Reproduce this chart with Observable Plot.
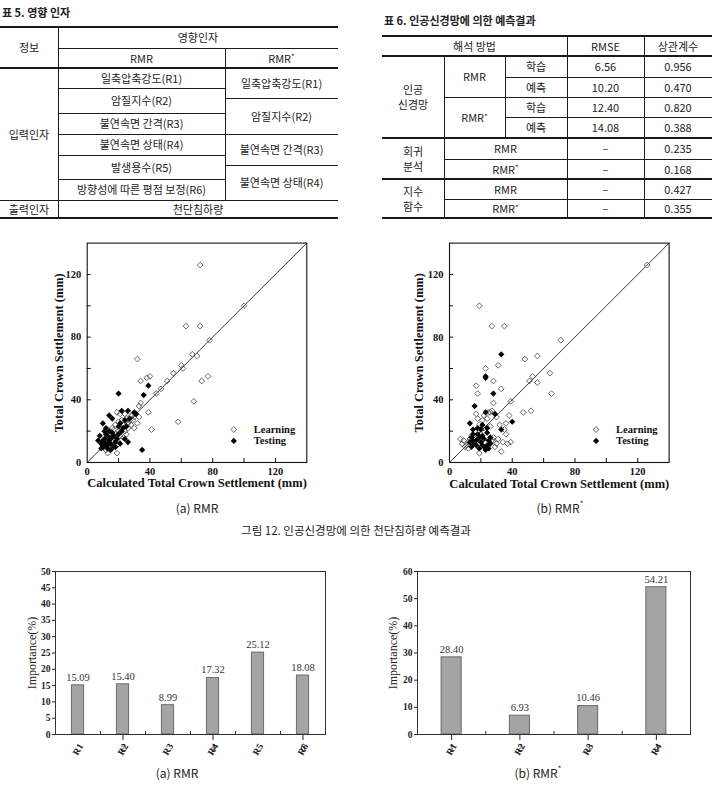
<!DOCTYPE html>
<html><head><meta charset="utf-8">
<script src="https://cdn.jsdelivr.net/npm/d3@7"></script>
<script src="https://cdn.jsdelivr.net/npm/@observablehq/plot@0.6"></script>
<style>
body{margin:0;background:#fff;}
#page{position:relative;width:712px;height:788px;overflow:hidden;font-family:"Noto Sans CJK KR","Noto Sans",sans-serif;color:#222;}
.ln{position:absolute;background:#1a1a1a;}
.cell{position:absolute;display:flex;align-items:center;justify-content:center;text-align:center;font-size:11px;line-height:1.35;white-space:pre-line;}
.ttl{position:absolute;font-size:11px;font-weight:bold;white-space:nowrap;}
.cap{position:absolute;font-size:12px;white-space:nowrap;transform:translateX(-50%);}
.chart{position:absolute;}
sup{font-size:8px;line-height:0;position:relative;top:-1px;}
</style></head>
<body><div id="page"></div>
<script>
// ---------- DATA ----------
const table5Title = "표 5. 영향 인자";
const table5Head = ["정보", "영향인자", "RMR", "RMR*"];
const rmrFactors = ["일축압축강도(R1)", "암질지수(R2)", "불연속면 간격(R3)", "불연속면 상태(R4)", "발생용수(R5)", "방향성에 따른 평점 보정(R6)"];
const rmrStarFactors = ["일축압축강도(R1)", "암질지수(R2)", "불연속면 간격(R3)", "불연속면 상태(R4)"];
const table5Rows = ["입력인자", "출력인자"];
const table5Output = "천단침하량";

const table6Title = "표 6. 인공신경망에 의한 예측결과";
const table6Head = ["해석 방법", "RMSE", "상관계수"];
const methods = ["인공\n신경망", "회귀\n분석", "지수\n함수"];
const models = ["RMR", "RMR*"];
const phases = ["학습", "예측"];
const annRmse = ["6.56", "10.20", "12.40", "14.08"];
const annCorr = ["0.956", "0.470", "0.820", "0.388"];
const regCorr = ["0.235", "0.168"];
const expCorr = ["0.427", "0.355"];
const noValue = "–";

const scatterXLabel = "Calculated Total Crown Settlement (mm)";
const scatterYLabel = "Total Crown Settlement (mm)";
const legendLabels = ["Learning", "Testing"];
const scatterMajor = [0, 40, 80, 120];
const scatterMinor = [20, 40, 60, 80, 100, 120];
const diagonal = [0, 140];

const rmrLearning = [[72,126],[100,100],[63,87],[72,87],[78,78],[32,66],[67,69],[70,68],[60,62],[61,60],[55,57],[51,52],[47,47],[44,44],[40,55],[38,54],[34,52],[77,55],[73,52],[68,39],[39,32],[41,21],[58,26],[34,38],[33,36],[31,31],[32,25],[30,22],[19,32],[29,30],[19,6],[13,6],
 [25,28],[27,27],[28,30],[26,25],[23,24],[22,22],[24,20],[20,20],[18,18],[21,17],[17,21],[15,16],[16,13],[13,12],[12,14],[14,18],[19,14],[11,10],[10,12],[22,27],[26,22],[30,29],[20,26],[18,24],[16,22],[23,16],[25,18],[14,9],[19,11],[12,8],[28,24],[24,31],[33,29],[29,27],[21,31]];
const rmrTesting = [[20,44],[39,49],[36,43],[22,33],[26,33],[31,31],[35,8],[26,13],[14,30],[10,25],[16,28],[21,25],[24,27],[8,17],[7,14],[9,12],[10,10],[11,15],[12,18],[13,11],[14,14],[15,12],[16,16],[17,10],[18,13],[19,15],[20,18],[12,22],[11,20],[14,20],[16,19],[13,9],[9,9],[10,14],[15,8],[18,10],[22,20],[24,15],[21,12],[17,17],[12,12],[14,16],[27,28],[23,22],[20,23],[11,11],[30,32],[25,23]];
const rmrStarLearning = [[126,126],[19,100],[27,87],[35,87],[71,78],[48,66],[56,68],[64,57],[53,55],[51,52],[56,51],[65,44],[23,60],[31,62],[28,52],[17,49],[18,44],[33,47],[28,38],[39,39],[47,32],[52,33],[38,30],[36,25],[35,21],[36,18],[33,7],[19,6],[39,13],[37,12],[31,15],[28,14],[25,32],[27,33],[26,32],[21,27],[18,28],[19,24],[32,24],[9,14],[8,12],[11,11],[10,10],[12,13],[28,16],[27,14],[30,12],[29,10],[22,22],[26,23],[16,20],[14,17],[20,18],[24,28],[22,30],[17,31],[30,29],[13,15],[15,12],[34,13],[7,15],[12,9],[20,14]];
const rmrStarTesting = [[33,69],[23,55],[23,54],[28,44],[16,36],[23,32],[29,31],[40,26],[33,21],[13,25],[15,21],[14,16],[15,14],[18,15],[20,13],[22,15],[24,11],[25,9],[17,11],[19,9],[21,17],[26,16],[24,19],[15,18],[16,12],[18,18],[20,21],[22,10],[23,8],[26,12],[13,13],[17,14],[19,16],[21,11],[25,14],[14,10],[24,22],[21,24],[18,22]];

const rmrCats = ["R1","R2","R3","R4","R5","R6"];
const rmrImportance = [15.09, 15.40, 8.99, 17.32, 25.12, 18.08];
const rmrTicks = [0,5,10,15,20,25,30,35,40,45,50];
const rmrStarCats = ["R1","R2","R3","R4"];
const rmrStarImportance = [28.40, 6.93, 10.46, 54.21];
const rmrStarTicks = [0,10,20,30,40,50,60];
const barYLabel = "Importance(%)";

const subCaptions = ["(a) RMR", "(b) RMR*"];
const figCaption = "그림 12. 인공신경망에 의한 천단침하량 예측결과";

// ---------- HELPERS ----------
const page = document.getElementById("page");
const fmt = s => s.replace("*", "<sup>*</sup>");
function hl(x1, x2, y, w = 1) { const d = document.createElement("div"); d.className = "ln"; Object.assign(d.style, {left: x1 + "px", top: (y - w / 2) + "px", width: (x2 - x1) + "px", height: w + "px"}); page.appendChild(d); }
function vl(x, y1, y2, w = 1) { const d = document.createElement("div"); d.className = "ln"; Object.assign(d.style, {left: (x - w / 2) + "px", top: y1 + "px", width: w + "px", height: (y2 - y1) + "px"}); page.appendChild(d); }
function cell(x1, y1, x2, y2, text) { const d = document.createElement("div"); d.className = "cell"; Object.assign(d.style, {left: x1 + "px", top: y1 + "px", width: (x2 - x1) + "px", height: (y2 - y1) + "px"}); d.innerHTML = fmt(text); page.appendChild(d); }
function title(x, y, text) { const d = document.createElement("div"); d.className = "ttl"; Object.assign(d.style, {left: x + "px", top: y + "px"}); d.textContent = text; page.appendChild(d); }
function caption(cx, y, text, size) { const d = document.createElement("div"); d.className = "cap"; Object.assign(d.style, {left: cx + "px", top: y + "px"}); if (size) d.style.fontSize = size + "px"; d.innerHTML = fmt(text); page.appendChild(d); }
function place(node, x, y) { const w = document.createElement("div"); w.className = "chart"; w.style.left = x + "px"; w.style.top = y + "px"; w.appendChild(node); page.appendChild(w); }

// ---------- TABLE 5 ----------
title(2, 4, table5Title);
{
  const c = [0, 58, 225, 338];
  const rr = [68, 88, 113, 134, 155, 179, 200];
  const rs = [68, 98, 134, 165, 200];
  cell(c[0], 27, c[1], 68, table5Head[0]);
  cell(c[1], 27, c[3], 48, table5Head[1]);
  cell(c[1], 48, c[2], 68, table5Head[2]);
  cell(c[2], 48, c[3], 68, table5Head[3]);
  cell(c[0], 68, c[1], 200, table5Rows[0]);
  rmrFactors.forEach((t, i) => cell(c[1], rr[i], c[2], rr[i + 1], t));
  rmrStarFactors.forEach((t, i) => cell(c[2], rs[i], c[3], rs[i + 1], t));
  cell(c[0], 200, c[1], 218, table5Rows[1]);
  cell(c[1], 200, c[3], 218, table5Output);
  hl(0, 338, 27, 2); hl(58, 338, 48); hl(0, 338, 68, 1.6);
  rr.slice(1, -1).forEach(y => hl(58, 225, y));
  rs.slice(1, -1).forEach(y => hl(225, 338, y));
  hl(0, 338, 200); hl(0, 338, 218, 1.4);
  vl(58, 27, 218); vl(225, 48, 200);
}

// ---------- TABLE 6 ----------
title(384, 12, table6Title);
{
  const a = 382, b = 444, c = 505, d = 567, e = 644, f = 712;
  const r = [56, 77, 97, 117, 138, 159, 179, 199, 218];
  cell(a, 36, d, 56, table6Head[0]); cell(d, 36, e, 56, table6Head[1]); cell(e, 36, f, 56, table6Head[2]);
  cell(a, 56, b, 138, methods[0]);
  cell(b, 56, c, 97, models[0]); cell(b, 97, c, 138, models[1]);
  for (let i = 0; i < 4; i++) {
    cell(c, r[i], d, r[i + 1], phases[i % 2]);
    cell(d, r[i], e, r[i + 1], annRmse[i]);
    cell(e, r[i], f, r[i + 1], annCorr[i]);
  }
  cell(a, 138, b, 179, methods[1]);
  cell(a, 179, b, 218, methods[2]);
  [regCorr, expCorr].forEach((vals, g) => vals.forEach((v, j) => {
    const y1 = r[4 + g * 2 + j], y2 = r[5 + g * 2 + j];
    cell(b, y1, d, y2, models[j]); cell(d, y1, e, y2, noValue); cell(e, y1, f, y2, v);
  }));
  hl(a, f, 36, 2); hl(a, f, 56, 2);
  hl(c, f, 77); hl(b, f, 97); hl(c, f, 117);
  hl(a, f, 138, 1.4); hl(b, f, 159); hl(a, f, 179, 1.4); hl(b, f, 199); hl(a, f, 218, 1.4);
  vl(b, 56, 218); vl(c, 56, 138); vl(d, 36, 218); vl(e, 36, 218);
}

// ---------- SCATTER ----------
function scatter(learn, test, mLeft, yLabelDx) {
  const H = 262;
  const mt = 10.6, mb = 32, mr = 13.4, ml = mLeft;
  const width = ml + 219.6 + mr;
  const iw = width - ml - mr, ih = H - mt - mb;
  return Plot.plot({
    width, height: H, marginLeft: ml, marginRight: mr, marginTop: mt, marginBottom: mb,
    x: {domain: [0, 140]}, y: {domain: [0, 140]},
    style: {fontFamily: "'Liberation Serif', 'Times New Roman', serif", background: "transparent", color: "#111", overflow: "visible"},
    marks: [
      Plot.line(diagonal, {x: d => d, y: d => d, stroke: "#222", strokeWidth: 0.9}),
      Plot.tickX(scatterMinor, {x: d => d, insetTop: ih - 4, stroke: "#111"}),
      Plot.tickY(scatterMinor, {y: d => d, insetRight: iw - 4, stroke: "#111"}),
      Plot.axisX(scatterMajor, {tickSize: 0, tickPadding: 5, fontWeight: "bold", fontSize: 10.5, label: null}),
      Plot.axisY(scatterMajor, {tickSize: 0, tickPadding: 6, fontWeight: "bold", fontSize: 10.5, label: null}),
      Plot.text([scatterXLabel], {text: d => d, frameAnchor: "bottom", dy: 21, lineAnchor: "middle", textAnchor: "middle", fontWeight: "bold", fontSize: 12.5}),
      Plot.text([scatterYLabel], {text: d => d, frameAnchor: "left", dx: yLabelDx, rotate: -90, textAnchor: "middle", lineAnchor: "middle", fontWeight: "bold", fontSize: 12.5}),
      Plot.dot(learn, {x: d => d[0], y: d => d[1], symbol: "diamond2", r: 2.6, stroke: "#444", strokeWidth: 0.8, fill: "none"}),
      Plot.dot(test, {x: d => d[0], y: d => d[1], symbol: "diamond2", r: 2.8, fill: "#000", stroke: "none"}),
      Plot.dot([legendLabels[0]], {frameAnchor: "bottom-right", dx: -73, dy: -33, symbol: "diamond2", r: 2.6, stroke: "#444", strokeWidth: 0.8, fill: "none"}),
      Plot.dot([legendLabels[1]], {frameAnchor: "bottom-right", dx: -73, dy: -21.6, symbol: "diamond2", r: 2.8, fill: "#000"}),
      Plot.text([legendLabels[0]], {text: d => d, frameAnchor: "bottom-right", dx: -53, dy: -33, textAnchor: "start", lineAnchor: "middle", fontWeight: "bold", fontSize: 10.5}),
      Plot.text([legendLabels[1]], {text: d => d, frameAnchor: "bottom-right", dx: -53, dy: -21.6, textAnchor: "start", lineAnchor: "middle", fontWeight: "bold", fontSize: 10.5}),
      Plot.frame({stroke: "#111", strokeWidth: 1.1})
    ]
  });
}
place(scatter(rmrLearning, rmrTesting, 56.7, -28.5), 30, 232);
place(scatter(rmrStarLearning, rmrStarTesting, 57, -31), 392, 232);

caption(197, 499, subCaptions[0]);
caption(560, 499, subCaptions[1]);
caption(356, 522, figCaption, 11.5);

// ---------- BARS ----------
function bars(cats, vals, ticks, halfW, width, ml, yLabelDx) {
  const H = 205, mt = 11, mb = 31, mr = 10;
  const n = cats.length;
  const ih = H - mt - mb;
  const bounds = cats.slice(1).map((c, i) => i + 1.5);
  return Plot.plot({
    width, height: H, marginLeft: ml, marginRight: mr, marginTop: mt, marginBottom: mb,
    x: {domain: [0.5, n + 0.5]}, y: {domain: [ticks[0], ticks[ticks.length - 1]]},
    style: {fontFamily: "'Liberation Serif', 'Times New Roman', serif", background: "transparent", color: "#222", overflow: "visible"},
    marks: [
      Plot.rect(vals, {x1: (d, i) => i + 1 - halfW, x2: (d, i) => i + 1 + halfW, y1: 0, y2: d => d, fill: "#a4a4a4", stroke: "#6a6a6a", strokeWidth: 1}),
      Plot.text(vals, {x: (d, i) => i + 1, y: d => d, text: d => d.toFixed(2), dy: -8, fontSize: 10.5, fill: "#333"}),
      Plot.text(cats, {x: (d, i) => i + 1, text: d => d, frameAnchor: "bottom", dy: 15, rotate: -60, textAnchor: "middle", lineAnchor: "middle", fontWeight: "bold", fontSize: 9.5}),
      Plot.tickX(bounds, {x: d => d, insetTop: ih - 3, stroke: "#333"}),
      Plot.axisY(ticks, {tickSize: 3, tickPadding: 2, fontWeight: "bold", fontSize: 9.5, label: null}),
      Plot.text([barYLabel], {text: d => d, frameAnchor: "left", dx: yLabelDx, rotate: -90, textAnchor: "middle", lineAnchor: "middle", fontSize: 12}),
      Plot.frame({stroke: "#333", strokeWidth: 1})
    ]
  });
}
place(bars(rmrCats, rmrImportance, rmrTicks, 0.135, 335, 55, -23.5), 0, 560);
place(bars(rmrStarCats, rmrStarImportance, rmrStarTicks, 0.147, 340, 57, -24), 360, 560);

caption(177, 764, subCaptions[0]);
caption(538, 764, subCaptions[1]);
</script>
</body></html>
